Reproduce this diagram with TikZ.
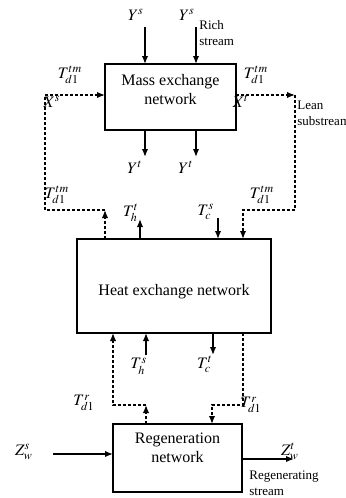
\documentclass[tikz,border=0pt]{standalone}
\usepackage{mathptmx}
\usepackage{fontspec}
\setmainfont{Liberation Serif}
\usetikzlibrary{arrows.meta, positioning}

\begin{document}
\begin{tikzpicture}[
    x=0.5pt, y=-0.5pt,
    font=\fontsize{8}{9.5}\selectfont,
    netbox/.style={draw, line width=0.7pt, inner sep=0pt, outer sep=0pt},
    flow/.style={line width=0.7pt, -{Latex[length=4pt,width=3.2pt]}},
    dflow/.style={line width=0.7pt, dash pattern=on 1.5pt off 1pt, -{Latex[length=4pt,width=3.2pt]}},
    var/.style={inner sep=0pt},
    note/.style={font=\fontsize{6.5}{8}\selectfont, align=left, inner sep=0pt, anchor=west},
]
\useasboundingbox (0,0) rectangle (345,498);

% Networks
\node[netbox, line width=1.3pt, minimum width=65.5pt, minimum height=33pt] (mass) at (170.5,97) {};
\node[align=center, inner sep=0pt] (mass-txt) at (170.5,90) {Mass exchange\\network};
\node[netbox, minimum width=97pt, minimum height=47pt] (heat) at (174,286) {};
\node[inner sep=0pt] (heat-txt) at (174,292) {Heat exchange network};
\node[netbox, minimum width=64.5pt, minimum height=34pt] (regen) at (177.5,458) {};
\node[align=center, inner sep=0pt] (regen-txt) at (177.5,448) {Regeneration\\network};

% Rich stream
\coordinate (ys1) at (145,27);
\coordinate (ys2) at (196,27);
\coordinate (yt1) at (145,157);
\coordinate (yt2) at (196,157);
\draw[flow] (ys1) -- (ys1 |- mass.north);
\draw[flow] (ys2) -- (ys2 |- mass.north);
\draw[flow] (yt1 |- mass.south) -- (yt1);
\draw[flow] (yt2 |- mass.south) -- (yt2);
\node[var] (ys1-lbl) at (136,15) {$Y^s$};
\node[var] (ys2-lbl) at (187,15) {$Y^s$};
\node[var] (yt1-lbl) at (135,167) {$Y^t$};
\node[var] (yt2-lbl) at (186,167) {$Y^t$};
\node[note] (rich) at (199,33) {Rich\\stream};

% Lean substream loops
\coordinate (lup) at (45,95);
\coordinate (llo) at (45,210);
\coordinate (lhx) at (105,210);
\draw[dflow] (lhx |- heat.north) -- (lhx);
\draw[dflow] (lhx) -- (llo) -- (lup) -- (lup -| mass.west);
\coordinate (rup) at (295,95);
\coordinate (rlo) at (295,210);
\coordinate (rhx) at (243,210);
\draw[dflow] (rup -| mass.east) -- (rup);
\draw[dflow] (rup) -- (rlo) -- (rhx) -- (rhx |- heat.north);
\node[var] (tl1-lbl) at (70,75) {$T^{tm}_{d1}$};
\node[var] (xs-lbl) at (52,102) {$X^s$};
\node[var] (tr1-lbl) at (256,75) {$T^{tm}_{d1}$};
\node[var] (xt-lbl) at (241,101) {$X^t$};
\node[var] (tl2-lbl) at (57,195) {$T^{tm}_{d1}$};
\node[var] (tr2-lbl) at (262,195) {$T^{tm}_{d1}$};
\node[note] (lean) at (297,113) {Lean\\substream};

% Utilities
\coordinate (tht) at (140,219);
\coordinate (tcs) at (218,218);
\coordinate (ths) at (146,355);
\coordinate (tct) at (213,355);
\draw[flow] (tht |- heat.north) -- (tht);
\draw[flow] (tcs) -- (tcs |- heat.north);
\draw[flow] (ths) -- (ths |- heat.south);
\draw[flow] (tct |- heat.south) -- (tct);
\node[var] (tht-lbl) at (131,213) {$T^t_h$};
\node[var] (tcs-lbl) at (206,212) {$T^s_c$};
\node[var] (ths-lbl) at (139,366) {$T^s_h$};
\node[var] (tct-lbl) at (205,364) {$T^t_c$};

% Regeneration loops
\coordinate (blc) at (113,405);
\coordinate (brg) at (146,405);
\draw[dflow] (brg |- regen.north) -- (brg);
\draw[dflow] (brg) -- (blc) -- (blc |- heat.south);
\coordinate (brc) at (243,405);
\coordinate (brr) at (212,405);
\draw[dflow] (brc |- heat.south) -- (brc) -- (brr) -- (brr |- regen.north);
\node[var] (trl-lbl) at (84,403) {$T^r_{d1}$};
\node[var] (trr-lbl) at (251,405) {$T^r_{d1}$};

% Regenerating stream
\coordinate (zin) at (53,454);
\coordinate (zout) at (294,459);
\draw[flow] (zin) -- (zin -| regen.west);
\draw[flow] (zout -| regen.east) -- (zout);
\node[var] (zs-lbl) at (24,452) {$Z^s_w$};
\node[var] (zt-lbl) at (290,451) {$Z^t_w$};
\node[note] (regstream) at (249,483) {Regenerating\\stream};

\end{tikzpicture}
\end{document}
